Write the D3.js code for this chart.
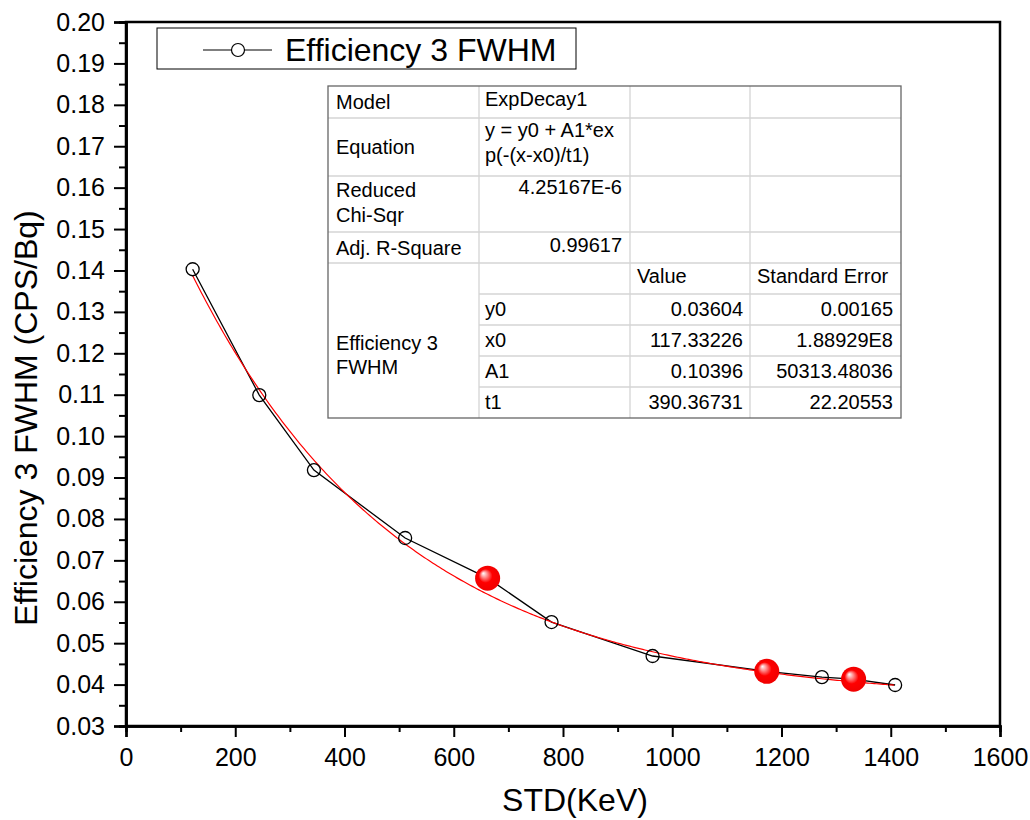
<!DOCTYPE html>
<html>
<head>
<meta charset="utf-8">
<script src="https://cdn.jsdelivr.net/npm/d3@7"></script>
<style>
  body { margin: 0; background: #fff; }
  text { font-family: "Liberation Sans", Arial, sans-serif; }
</style>
</head>
<body>
<svg id="chart" width="1030" height="820"></svg>
<script>
// measured points
var energy = [122, 244, 344, 511, 662, 779, 964, 1173, 1274, 1332, 1408];
var eff = [0.1403, 0.1099, 0.0918, 0.0754, 0.0657, 0.0551, 0.0469, 0.0432, 0.0418, 0.0413, 0.0399];
var redIdx = [4, 7, 9];

// fit parameters (ExpDecay1)
var fitNames = ["y0", "x0", "A1", "t1"];
var fitValues = [0.03604, 117.33226, 0.10396, 390.36731];
var fitErrors = ["0.00165", "1.88929E8", "50313.48036", "22.20553"];
var fitValueText = ["0.03604", "117.33226", "0.10396", "390.36731"];

var xTicks = [0, 200, 400, 600, 800, 1000, 1200, 1400, 1600];
var yTicks = d3.range(3, 21).map(function (d) { return d / 100; });

var margin = {left: 126, right: 1000, top: 22, bottom: 726};
var svg = d3.select("#chart");
var FONT = "'Liberation Sans', Arial, sans-serif";

var x = d3.scaleLinear().domain([0, 1600]).range([margin.left, margin.right]);
var y = d3.scaleLinear().domain([0.03, 0.20]).range([margin.bottom, margin.top]);

// gradient for red spheres
var defs = svg.append("defs");
var grad = defs.append("radialGradient")
    .attr("id", "ball")
    .attr("cx", "50%").attr("cy", "50%").attr("r", "50%")
    .attr("fx", "32%").attr("fy", "30%");
grad.append("stop").attr("offset", "0%").attr("stop-color", "#ffffff");
grad.append("stop").attr("offset", "22%").attr("stop-color", "#ff9a9a");
grad.append("stop").attr("offset", "55%").attr("stop-color", "#ff0000");
grad.append("stop").attr("offset", "100%").attr("stop-color", "#f00000");

// frame
svg.append("rect")
    .attr("x", margin.left).attr("y", margin.top)
    .attr("width", margin.right - margin.left)
    .attr("height", margin.bottom - margin.top)
    .attr("fill", "none").attr("stroke", "#000").attr("stroke-width", 2.5);

// axes
var xAxis = d3.axisBottom(x).tickValues(xTicks).tickSize(11).tickPadding(11).tickFormat(d3.format("d"));
svg.append("g").attr("transform", "translate(0," + margin.bottom + ")").call(xAxis);
var xMinor = d3.axisBottom(x).tickValues(d3.range(100, 1600, 200)).tickSize(6).tickFormat("");
svg.append("g").attr("transform", "translate(0," + margin.bottom + ")").call(xMinor);

var yAxis = d3.axisLeft(y).tickValues(yTicks).tickSize(12).tickPadding(9).tickFormat(d3.format(".2f"));
svg.append("g").attr("transform", "translate(" + margin.left + ",0)").call(yAxis);
var yMinor = d3.axisLeft(y).tickValues(yTicks.slice(0, -1).map(function (d) { return d + 0.005; })).tickSize(7).tickFormat("");
svg.append("g").attr("transform", "translate(" + margin.left + ",0)").call(yMinor);

svg.selectAll(".domain").attr("stroke", "#000").attr("stroke-width", 2.5);
svg.selectAll(".tick line").attr("stroke", "#000").attr("stroke-width", 2);
svg.selectAll("g").attr("font-family", FONT);
svg.selectAll(".tick text").attr("font-size", 25).attr("fill", "#000");

// axis titles
svg.append("text")
    .attr("x", 575).attr("y", 811)
    .attr("text-anchor", "middle").attr("font-size", 32)
    .text("STD(KeV)");
svg.append("text")
    .attr("transform", "translate(37,418) rotate(-90)")
    .attr("text-anchor", "middle").attr("font-size", 32)
    .text("Efficiency 3 FWHM (CPS/Bq)");

// fit curve
var fitX = d3.range(energy[0], energy[energy.length - 1] + 1, 4);
var fitLine = d3.line()
    .x(function (d) { return x(d); })
    .y(function (d) { return y(fitValues[0] + fitValues[2] * Math.exp(-(d - fitValues[1]) / fitValues[3])); });

// data line
var pts = energy.map(function (e, i) { return [e, eff[i]]; });
svg.append("path")
    .datum(pts)
    .attr("d", d3.line().x(function (d) { return x(d[0]); }).y(function (d) { return y(d[1]); }))
    .attr("fill", "none").attr("stroke", "#000").attr("stroke-width", 1.3);

svg.append("path")
    .datum(fitX)
    .attr("d", fitLine)
    .attr("fill", "none").attr("stroke", "#ff0000").attr("stroke-width", 1.2);

// open markers
svg.selectAll(".pt")
    .data(pts.filter(function (d, i) { return redIdx.indexOf(i) < 0; }))
    .enter().append("circle")
    .attr("class", "pt")
    .attr("cx", function (d) { return x(d[0]); })
    .attr("cy", function (d) { return y(d[1]); })
    .attr("r", 6.5)
    .attr("fill", "none").attr("stroke", "#000").attr("stroke-width", 1.3);

// red spheres
svg.selectAll(".ball")
    .data(redIdx.map(function (i) { return pts[i]; }))
    .enter().append("circle")
    .attr("class", "ball")
    .attr("cx", function (d) { return x(d[0]); })
    .attr("cy", function (d) { return y(d[1]); })
    .attr("r", 12.5)
    .attr("fill", "url(#ball)");

// legend
var lg = svg.append("g");
lg.append("rect").attr("x", 157).attr("y", 28).attr("width", 419).attr("height", 41)
    .attr("fill", "#fff").attr("stroke", "#000").attr("stroke-width", 1);
lg.append("line").attr("x1", 203).attr("x2", 272).attr("y1", 50).attr("y2", 50)
    .attr("stroke", "#000").attr("stroke-width", 1.2);
lg.append("circle").attr("cx", 238).attr("cy", 50).attr("r", 6.5)
    .attr("fill", "#fff").attr("stroke", "#000").attr("stroke-width", 1.2);
lg.append("text").attr("x", 285).attr("y", 61).attr("font-size", 32).text("Efficiency 3 FWHM");

// results table
var colX = [328, 479, 630, 750, 901];
var rowY = [86, 118, 176, 232, 263, 294, 325, 356, 387, 418];
var tb = svg.append("g");
tb.append("rect").attr("x", colX[0]).attr("y", rowY[0])
    .attr("width", colX[4] - colX[0]).attr("height", rowY[9] - rowY[0])
    .attr("fill", "#fff");

// inner grid lines
rowY.slice(1, -1).forEach(function (ry, i) {
    var start = (i >= 4) ? colX[1] : colX[0];
    tb.append("line").attr("x1", start).attr("x2", colX[4]).attr("y1", ry).attr("y2", ry)
        .attr("stroke", "#d4d4d4").attr("stroke-width", 1.3);
});
colX.slice(1, -1).forEach(function (cx) {
    tb.append("line").attr("x1", cx).attr("x2", cx).attr("y1", rowY[0]).attr("y2", rowY[9])
        .attr("stroke", "#d4d4d4").attr("stroke-width", 1.3);
});
tb.append("rect").attr("x", colX[0]).attr("y", rowY[0])
    .attr("width", colX[4] - colX[0]).attr("height", rowY[9] - rowY[0])
    .attr("fill", "none").attr("stroke", "#666").attr("stroke-width", 1.3);

function cell(txt, cx, yy, anchor) {
    tb.append("text").attr("x", cx).attr("y", yy)
        .attr("font-size", 20).attr("text-anchor", anchor || "start").text(txt);
}
cell("Model", 336, 109);
cell("ExpDecay1", 485, 106);
cell("Equation", 336, 154);
cell("y = y0 + A1*ex", 485, 137);
cell("p(-(x-x0)/t1)", 485, 162);
cell("Reduced", 336, 197);
cell("Chi-Sqr", 336, 222);
cell("4.25167E-6", 622, 194, "end");
cell("Adj. R-Square", 336, 255);
cell("0.99617", 622, 252, "end");
cell("Value", 637, 283);
cell("Standard Error", 757, 283);
cell("Efficiency 3", 336, 350);
cell("FWHM", 336, 374);
fitNames.forEach(function (n, i) {
    var yy = rowY[5 + i] + 22;
    cell(n, 485, yy);
    cell(fitValueText[i], 743, yy, "end");
    cell(fitErrors[i], 893, yy, "end");
});
</script>
</body>
</html>
